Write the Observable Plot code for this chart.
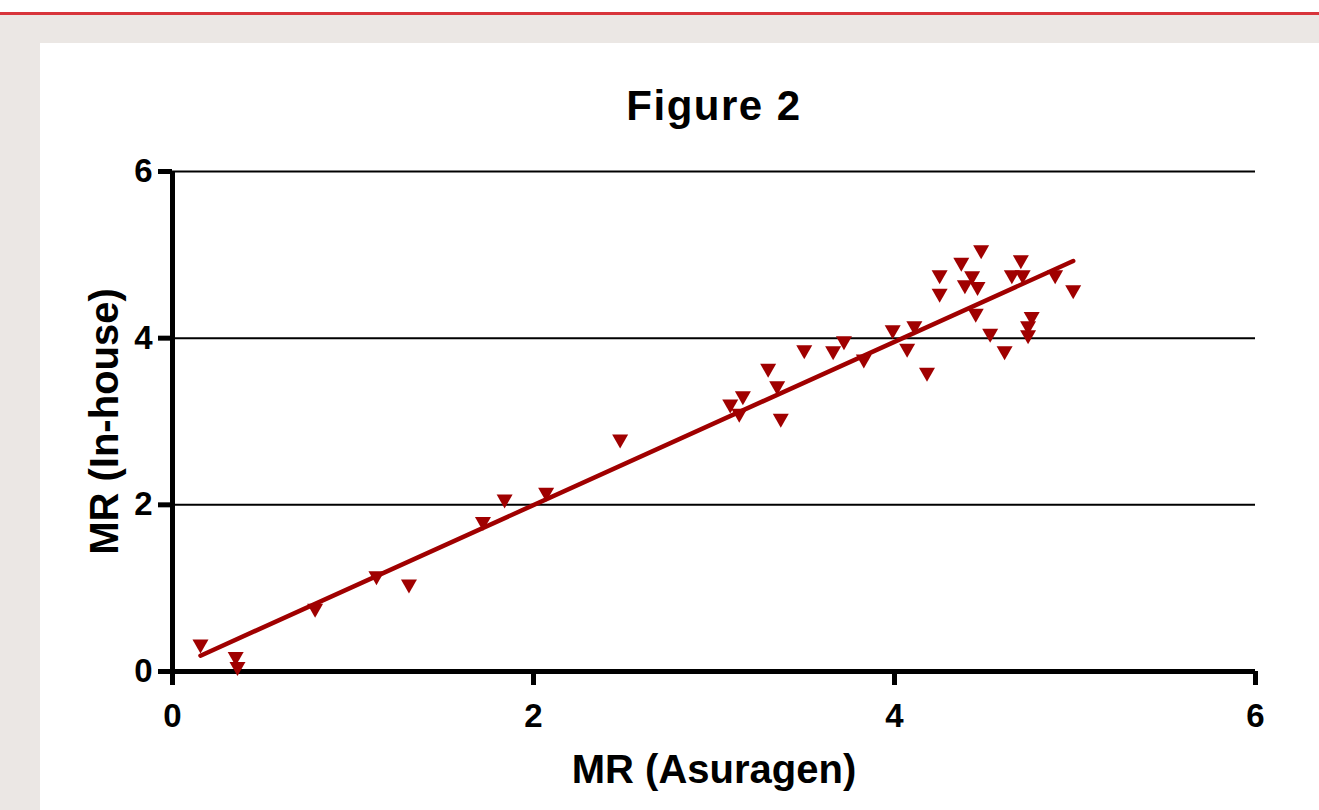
<!DOCTYPE html>
<html>
<head>
<meta charset="utf-8">
<script src="https://cdn.jsdelivr.net/npm/d3@7"></script>
<script src="https://cdn.jsdelivr.net/npm/@observablehq/plot@0.6"></script>
<style>
  html, body { margin: 0; padding: 0; background: #ffffff; width: 1319px; height: 810px; overflow: hidden; }
  #topline { position: absolute; left: 0; top: 12px; width: 1319px; height: 3px; background: #d8353b; }
  #gray { position: absolute; left: 0; top: 15px; width: 1319px; height: 795px; background: #ebe7e4; }
  #panel { position: absolute; left: 40px; top: 43px; width: 1279px; height: 767px; background: #ffffff; }
  #chart { position: absolute; left: 0; top: 0; }
  #chart svg { overflow: visible; }
</style>
</head>
<body>
<div id="topline"></div>
<div id="gray"></div>
<div id="panel"><div id="chart"></div></div>
<script>
// Data
const asuragen = [
  0.155, 0.35, 0.36, 0.79, 1.13, 1.31, 1.72, 1.84, 2.07, 2.48,
  3.09, 3.16, 3.14, 3.30, 3.35, 3.37, 3.50, 3.66, 3.72, 3.83,
  3.99, 4.11, 4.07, 4.18, 4.25, 4.25, 4.37, 4.48, 4.43, 4.39, 4.46,
  4.45, 4.53, 4.61, 4.70, 4.65, 4.71, 4.76, 4.74, 4.74, 4.89, 4.99
];
const inhouse = [
  0.30, 0.15, 0.03, 0.73, 1.12, 1.02, 1.77, 2.04, 2.12, 2.76,
  3.18, 3.28, 3.07, 3.61, 3.40, 3.01, 3.83, 3.82, 3.94, 3.72,
  4.07, 4.12, 3.85, 3.56, 4.73, 4.51, 4.88, 5.03, 4.72, 4.61, 4.59,
  4.27, 4.03, 3.82, 4.91, 4.73, 4.73, 4.23, 4.12, 4.01, 4.73, 4.55
];
const xTicks = [0, 2, 4, 6];
const yTicks = [0, 2, 4, 6];
const gridLines = [2, 4, 6];
const titleText = "Figure 2";
const xLabel = "MR (Asuragen)";
const yLabel = "MR (In-house)";

const data = asuragen.map((x, i) => ({x, y: inhouse[i]}));
const red = "#a00000";
const font = "'Liberation Sans', Arial, Helvetica, sans-serif";

const triangleDown = {
  draw(context, size) {
    const r = Math.sqrt(size / Math.PI);
    const w = r, h = r * 0.87;
    context.moveTo(-w, -h);
    context.lineTo(w, -h);
    context.lineTo(0, h);
    context.closePath();
  }
};

const chart = Plot.plot({
  width: 1279,
  height: 767,
  marginLeft: 132,
  marginRight: 64,
  marginTop: 128,
  marginBottom: 139,
  style: {fontFamily: font, background: "transparent", color: "#000"},
  x: {domain: [0, 6], axis: null},
  y: {domain: [0, 6], axis: null},
  marks: [
    Plot.ruleY(gridLines, {y: d => d, stroke: "#000", strokeWidth: 2}),
    Plot.axisX({ticks: xTicks, tickSize: 14, strokeWidth: 5, stroke: "#000", strokeOpacity: 1, tickFormat: () => "", label: null}),
    Plot.axisY({ticks: yTicks, tickSize: 14, strokeWidth: 5, stroke: "#000", strokeOpacity: 1, tickFormat: () => "", label: null}),
    Plot.ruleY([0], {stroke: "#000", strokeWidth: 5}),
    Plot.ruleX([0], {stroke: "#000", strokeWidth: 5}),
    Plot.text(xTicks, {x: d => d, text: d => String(d), frameAnchor: "bottom", lineAnchor: "bottom", dy: 55, fontSize: 33, fontWeight: "bold", fill: "#000"}),
    Plot.text(yTicks, {y: d => d, text: d => String(d), frameAnchor: "left", textAnchor: "end", lineAnchor: "middle", dx: -20, fontSize: 33, fontWeight: "bold", fill: "#000"}),
    Plot.dot(data, {x: "x", y: "y", symbol: triangleDown, r: 8, fill: red, stroke: "none"}),
    Plot.linearRegressionY(data, {x: "x", y: "y", stroke: red, strokeWidth: 4.5, ci: 0}),
    Plot.text([titleText], {text: d => d, frameAnchor: "top", lineAnchor: "bottom", dy: -52, fontSize: 42, fontWeight: "bold", fill: "#000"}),
    Plot.text([xLabel], {text: d => d, frameAnchor: "bottom", lineAnchor: "bottom", dy: 111, fontSize: 40, fontWeight: "bold", fill: "#000"}),
    Plot.text([yLabel], {text: d => d, frameAnchor: "left", textAnchor: "middle", lineAnchor: "bottom", rotate: -90, dx: -55, fontSize: 40, fontWeight: "bold", fill: "#000"})
  ]
});
// slightly wider title spacing as in the reference
d3.select(chart).selectAll("text").filter(function() { return this.textContent === titleText; })
  .style("letter-spacing", "1.5px");
document.getElementById("chart").appendChild(chart);
</script>
</body>
</html>
